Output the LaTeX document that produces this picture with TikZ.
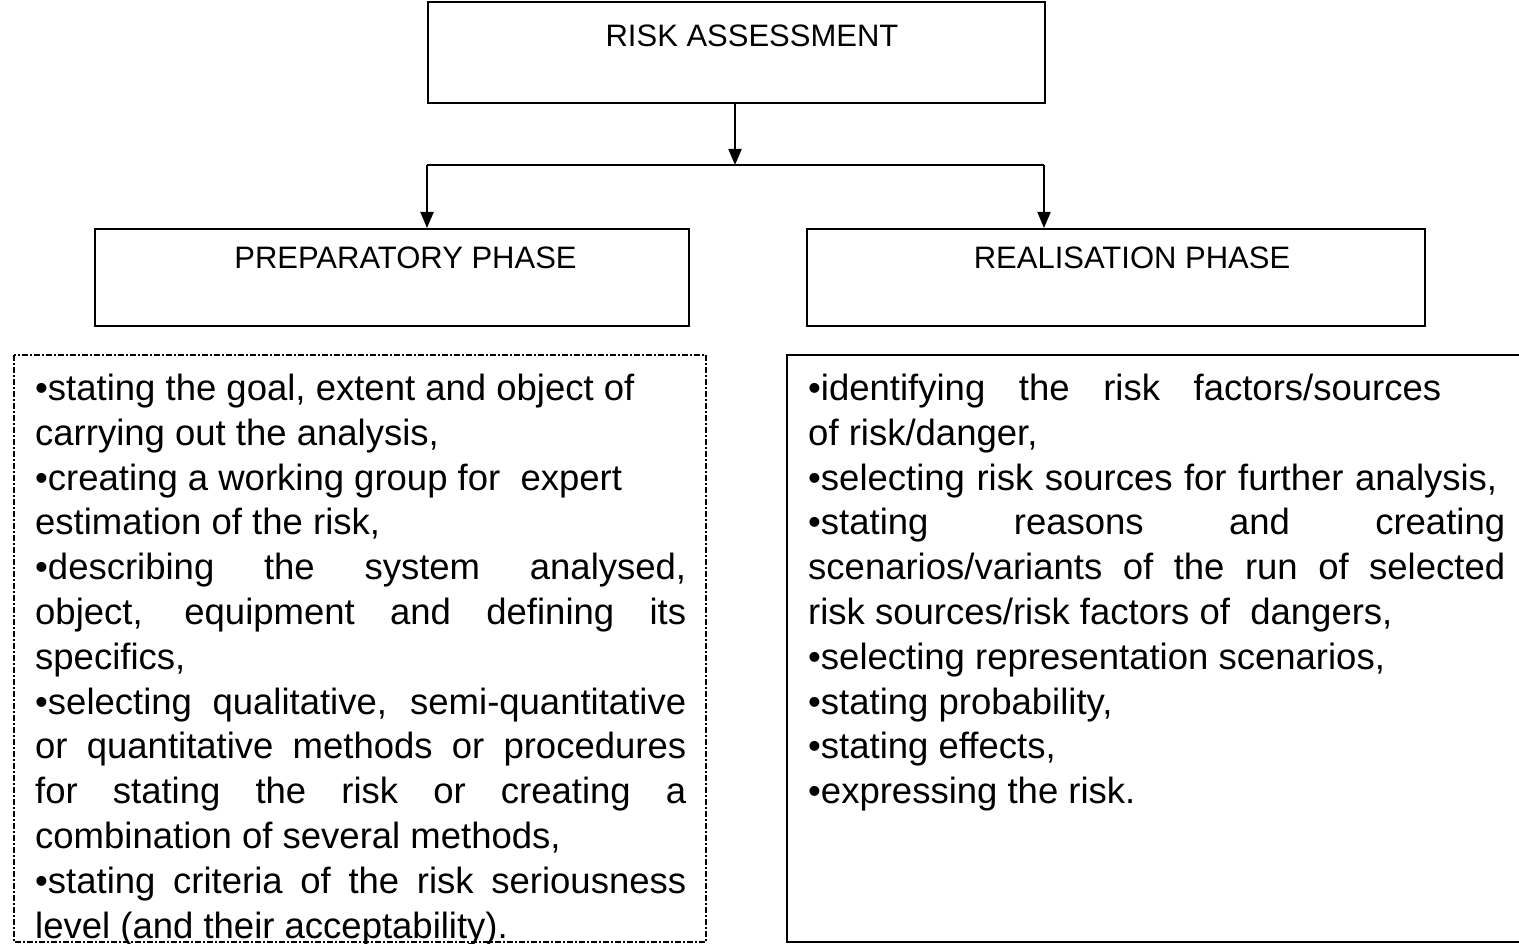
\documentclass[tikz,border=0pt]{standalone}
\usepackage{fontspec}
\setmainfont{Liberation Sans}
\usetikzlibrary{arrows.meta}
\tikzset{
  box/.style={draw=black, line width=2pt, inner sep=0pt, anchor=north west},
  dbox/.style={draw=black, line width=1.3pt, dash pattern=on 6pt off 2pt on 2pt off 2pt},
  sbox/.style={draw=black, line width=2pt},
  conn/.style={line width=2pt},
  arr/.style={line width=2pt, -{Triangle[width=13pt,length=16pt]}},
  head/.style={font=\fontsize{31}{36}\selectfont, inner sep=0pt, anchor=base},
  ln/.style={font=\fontsize{36.5}{44.8}\selectfont, inner sep=0pt, anchor=base west},
}
\newcommand{\jl}[2]{\makebox[#1pt][s]{#2}}
\begin{document}
\begin{tikzpicture}[x=1pt,y=-1pt]
\useasboundingbox (0,0) rectangle (1519,944);
% header boxes
\node[box, minimum width=617pt, minimum height=101pt] (top) at (427,1) {};
\node[head] (toptxt) at (752,47) {RISK ASSESSMENT};
\node[box, minimum width=594pt, minimum height=97pt] (prep) at (94,228) {};
\node[head] (preptxt) at (405.5,269) {PREPARATORY PHASE};
\node[box, minimum width=618pt, minimum height=97pt] (real) at (806,228) {};
\node[head] (realtxt) at (1132,269) {REALISATION PHASE};
% connectors
\coordinate (j) at (735,165);
\coordinate (jl) at (427,165);
\coordinate (jr) at (1044,165);
\draw[arr] (top.south -| j) -- (j);
\draw[conn] (jl) -- (jr);
\draw[arr] (jl) -- (jl |- prep.north);
\draw[arr] (jr) -- (jr |- real.north);
% lower boxes
\draw[dbox] (14,355) rectangle (706,942);
\draw[sbox] (787,355) rectangle (1530,942);
% left text
\node[ln] (l1) at (35,400.5) {•stating the goal, extent and object of};
\node[ln] (l2) at (35,445.3) {carrying out the analysis,};
\node[ln] (l3) at (35,490.1) {•creating a working group for\ \ expert};
\node[ln] (l4) at (35,534.9) {estimation of the risk,};
\node[ln] (l5) at (35,579.7) {\jl{651}{•describing the system analysed,}};
\node[ln] (l6) at (35,624.5) {\jl{651}{object, equipment and defining its}};
\node[ln] (l7) at (35,669.3) {specifics,};
\node[ln] (l8) at (35,714.1) {\jl{651}{•selecting qualitative, semi-quantitative}};
\node[ln] (l9) at (35,758.9) {\jl{651}{or quantitative methods or procedures}};
\node[ln] (l10) at (35,803.7) {\jl{651}{for stating the risk or creating a}};
\node[ln] (l11) at (35,848.5) {combination of several methods,};
\node[ln] (l12) at (35,893.3) {\jl{651}{•stating criteria of the risk seriousness}};
\node[ln] (l13) at (35,938.1) {level (and their acceptability).};
% right text
\node[ln] (r1) at (808,400.5) {\jl{633}{•identifying the risk factors/sources}};
\node[ln] (r2) at (808,445.3) {of risk/danger,};
\node[ln] (r3) at (808,490.1) {\jl{689}{•selecting risk sources for further analysis,}};
\node[ln] (r4) at (808,534.9) {\jl{697}{•stating reasons and creating}};
\node[ln] (r5) at (808,579.7) {\jl{697}{scenarios/variants of the run of selected}};
\node[ln] (r6) at (808,624.5) {risk sources/risk factors of\ \ dangers,};
\node[ln] (r7) at (808,669.3) {•selecting representation scenarios,};
\node[ln] (r8) at (808,714.1) {•stating probability,};
\node[ln] (r9) at (808,758.9) {•stating effects,};
\node[ln] (r10) at (808,803.7) {•expressing the risk.};
\end{tikzpicture}
\end{document}
